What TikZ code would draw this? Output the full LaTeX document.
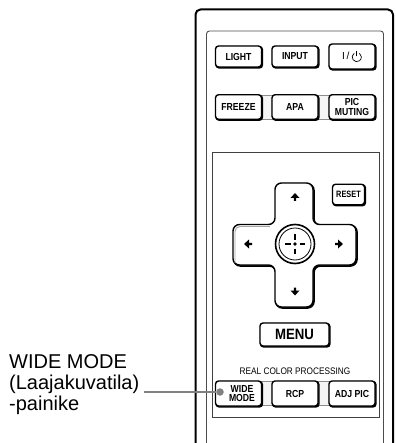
\documentclass[tikz,border=0pt]{standalone}
\usepackage{fontspec}
\setmainfont{Liberation Sans}
\newcommand{\bt}[1]{\scalebox{.85}[1]{#1}}
\tikzset{
  x=1pt,y=-1pt,
  btn/.style={draw=black,fill=white,line width=1.4pt,rounded corners=3pt,inner sep=0pt,align=center,
    font=\fontsize{10.2}{10}\selectfont\bfseries,
    preaction={draw=black,line width=1.8pt,transform canvas={xshift=.8pt,yshift=-.8pt}}},
  wide/.style={btn,minimum width=46pt,minimum height=21pt},
  tall/.style={btn,minimum width=46pt,minimum height=24.5pt},
  band/.style={draw=black!45,fill=black!4,line width=.9pt},
  lbl/.style={anchor=base west,inner sep=0pt,font=\fontsize{20}{20}\selectfont},
  leader/.style={draw=black!50,line width=1.9pt},
  thin panel/.style={draw=black!70,line width=.9pt,rounded corners=3pt},
  arrowmark/.style={fill=black,draw=none}
}
\begin{document}
\begin{tikzpicture}
\useasboundingbox (0,0) rectangle (395,443);
% body
\draw[line width=2pt,rounded corners=5pt] (195.5,443) -- (195.5,9.5) -- (393,9.5) -- (393,443);
\draw[thin panel] (206.5,443) -- (206.5,31) -- (383.5,31) -- (383.5,443);
\draw[draw=black!75,line width=.9pt] (212,152) rectangle (379.5,417.5);
% gray bands
\draw[band] (258,95.5) rectangle (276,119);
\draw[band] (314,95.5) rectangle (333,119);
\draw[band] (258,381.5) rectangle (276,405.5);
\draw[band] (314,381.5) rectangle (333,405.5);
% row 1
\node[wide] (light) at (238.5,56.5) {\bt{LIGHT}};
\node[wide] (input) at (295,56.5) {\bt{INPUT}};
\node[tall,minimum height=25pt] (power) at (352,56.5) {\fontseries{m}\selectfont I\,/\,\tikz[baseline=0pt,x=1pt,y=1pt]{\draw[line width=.7pt] (-2.6,6.6) arc[start angle=125,end angle=415,radius=4.6]; \draw[line width=.7pt] (0,3.6) -- (0,9.2);}};
% row 2
\node[tall] (freeze) at (238.5,107) {\bt{FREEZE}};
\node[tall] (apa) at (295,107) {\bt{APA}};
\node[tall] (pic) at (352,107) {\bt{PIC}\\[-.5pt]\bt{MUTING}};
% reset
\node[btn,minimum width=32pt,minimum height=20.5pt,font=\fontsize{9.2}{9.2}\selectfont\bfseries,rounded corners=3pt] (reset) at (348.5,194.5) {\scalebox{.8}[1]{RESET}};
% cross
\draw[fill=white,line width=1.4pt,rounded corners=6.5pt,
  preaction={draw=black,line width=1.8pt,transform canvas={xshift=.9pt,yshift=-.9pt}}]
  (275,183) -- (313,183) -- (313,224.5) -- (356,224.5) -- (356,265) -- (313,265) -- (313,307) -- (275,307) -- (275,265) -- (233,265) -- (233,224.5) -- (275,224.5) -- cycle;
\draw[draw=black!35,line width=.9pt,rounded corners=5pt] (235,263) -- (235,226.5) -- (270,226.5);
% arrows
\fill[arrowmark] (295,193) -- (299.5,198) -- (296.2,198) -- (296.2,201) -- (293.8,201) -- (293.8,198) -- (290.5,198) -- cycle;
\fill[arrowmark] (295,295.5) -- (299.5,290.5) -- (296.2,290.5) -- (296.2,287.5) -- (293.8,287.5) -- (293.8,290.5) -- (290.5,290.5) -- cycle;
\fill[arrowmark] (244,244) -- (249,239.5) -- (249,242.8) -- (252,242.8) -- (252,245.2) -- (249,245.2) -- (249,248.5) -- cycle;
\fill[arrowmark] (343,244) -- (338,239.5) -- (338,242.8) -- (335,242.8) -- (335,245.2) -- (338,245.2) -- (338,248.5) -- cycle;
% centre button
\node[circle,draw=black,fill=white,line width=1.6pt,minimum size=39pt,inner sep=0pt] (enter) at (295,244) {};
\node[circle,draw=black,line width=.8pt,minimum size=32pt,inner sep=0pt] (enterin) at (295,244) {};
\node[circle,fill=black,minimum size=3.8pt,inner sep=0pt] (enterdot) at (295,244) {};
\draw[line width=1.2pt] (295,234) -- (295,239.5) (295,248.5) -- (295,254) (285,244) -- (290.5,244) (299.5,244) -- (305,244);
% menu
\node[btn,minimum width=69pt,minimum height=23pt,font=\fontsize{15}{15}\selectfont\bfseries] (menu) at (294.5,334.5) {\scalebox{.88}[1]{MENU}};
\node[inner sep=0pt,font=\fontsize{9.5}{9.5}\selectfont] (rcp title) at (295,371) {\scalebox{.87}[1]{REAL COLOR PROCESSING}};
% row 4
\node[tall,minimum height=25pt] (wide) at (238.5,393.5) {\hspace*{7pt}\bt{WIDE}\\[-.5pt]\hspace*{7pt}\bt{MODE}};
\node[tall,minimum height=25pt] (rcp) at (295,393.5) {\bt{RCP}};
\node[tall,minimum height=25pt] (adj) at (352,393.5) {\bt{ADJ PIC}};
% label
\node[lbl] (l1) at (9,368) {WIDE MODE};
\node[lbl] (l2) at (9,389) {(Laajakuvatila)};
\node[lbl] (l3) at (9,410) {-painike};
\coordinate (lstart) at (144,392);
\node[circle,fill=black!50,minimum size=7.5pt,inner sep=0pt] (ldot) at (220,392) {};
\draw[leader] (lstart) -- (ldot);
\end{tikzpicture}
\end{document}
